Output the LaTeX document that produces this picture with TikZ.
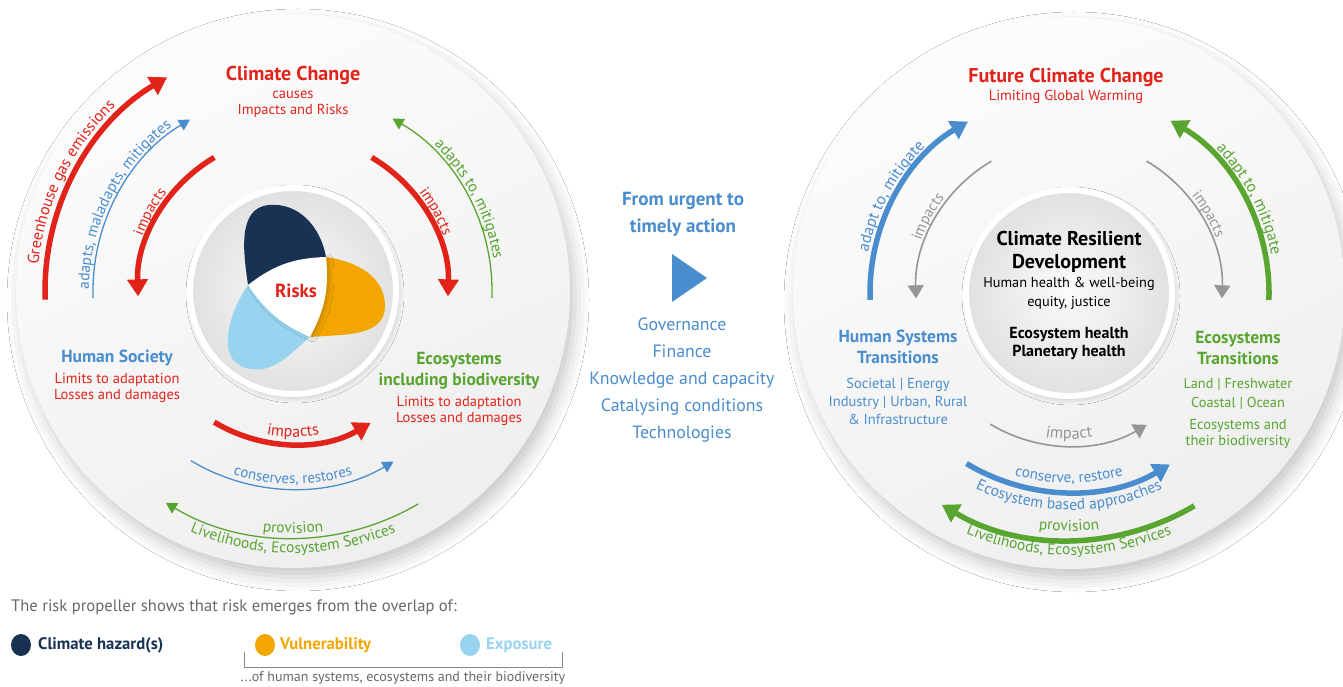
\documentclass[tikz,border=0pt]{standalone}
\usepackage{fontspec}
\setmainfont{PT Sans}
\usetikzlibrary{arrows.meta,decorations.text,shadows.blur}
\definecolor{ipred}{RGB}{226,35,26}
\definecolor{ipblue}{RGB}{74,141,206}
\definecolor{ipgreen}{RGB}{88,165,48}
\definecolor{ipgray}{RGB}{150,150,150}
\definecolor{ipnavy}{RGB}{24,50,84}
\definecolor{iporange}{RGB}{243,166,0}
\definecolor{iplight}{RGB}{152,212,240}
\definecolor{iptext}{RGB}{105,105,105}

\begin{document}
\begin{tikzpicture}[x=1pt,y=1pt,
  arc label/.style={decorate,decoration={text along path,text align=center,text={#1}}}]
		\tikzstyle{thick arrow} = [line width=5.5pt,-{Triangle[width=20pt,length=17pt]}]
		\tikzstyle{thin arrow} = [line width=1.3pt,-{Triangle[width=12pt,length=11pt]}]
		\tikzstyle{gray arrow} = [ipgray,line width=1.6pt,-{Triangle[width=16pt,length=13pt]}]
		\tikzstyle{disk} = [top color=gray!2,bottom color=gray!13,shading angle=25,
		    blur shadow={shadow xshift=5pt,shadow yshift=-9pt,shadow blur radius=14pt,shadow opacity=22}]
		\tikzstyle{hub} = [draw=white,line width=6pt,inner color=gray!3,outer color=gray!24,
		    blur shadow={shadow xshift=2pt,shadow yshift=-3pt,shadow blur radius=6pt,shadow opacity=20}]
		\tikzstyle{big head} = [font=\bfseries\fontsize{20}{22}\selectfont,inner sep=0pt]
		\tikzstyle{head} = [font=\bfseries\fontsize{17.5}{21}\selectfont,inner sep=0pt,align=center]
		\tikzstyle{body} = [font=\fontsize{14.5}{16}\selectfont,inner sep=0pt,align=center]
		\tikzstyle{legend} = [font=\bfseries\fontsize{16.7}{18}\selectfont,inner sep=0pt,anchor=west]

		\useasboundingbox (0,0) rectangle (1343,686);
		\fill[white] (0,0) rectangle (1343,686);

		\path[disk] (293,395) circle[radius=277pt];
		\path[disk] (1069,393) circle[radius=276pt];
		\path[hub] (293,395) circle[radius=103pt];
		\path[hub] (1069,393) circle[radius=103pt];

		\begin{scope}[shift={(293,395)}]
		\draw[thick arrow,ipred] (182:248pt) arc[start angle=182,end angle=120.5,radius=248pt];
		\path[arc label={|\fontsize{16}{18}\selectfont\color{ipred}|Greenhouse gas emissions}]
		    (194:256pt) arc[start angle=194,end angle=114,radius=256pt];
		\draw[thin arrow,ipblue] (182:200pt) arc[start angle=182,end angle=121,radius=200pt];
		\path[arc label={|\fontsize{15.5}{17}\selectfont\color{ipblue}|adapts, maladapts, mitigates}]
		    (193:204pt) arc[start angle=193,end angle=113,radius=204pt];
		\draw[thick arrow,ipred] (120.5:155pt) arc[start angle=120.5,end angle=182,radius=155pt];
		\path[arc label={|\fontsize{15}{17}\selectfont\color{ipred}|impacts}]
		    (181:160pt) arc[start angle=181,end angle=121,radius=160pt];
		\draw[thick arrow,ipred] (59.5:155pt) arc[start angle=59.5,end angle=-2,radius=155pt];
		\path[arc label={|\fontsize{15}{17}\selectfont\color{ipred}|impacts}]
		    (59:160pt) arc[start angle=59,end angle=-1,radius=160pt];
		\draw[thin arrow,ipgreen] (-2:199pt) arc[start angle=-2,end angle=60,radius=199pt];
		\path[arc label={|\fontsize{15.5}{17}\selectfont\color{ipgreen}|adapts to, mitigates}]
		    (67:203pt) arc[start angle=67,end angle=-12,radius=203pt];
		\draw[thick arrow,ipred] (239:153pt) arc[start angle=239,end angle=300.5,radius=153pt];
		\path[arc label={|\fontsize{16}{18}\selectfont\color{ipred}|impacts}]
		    (240:146pt) arc[start angle=240,end angle=300,radius=146pt];
		\draw[thin arrow,ipblue] (239:198pt) arc[start angle=239,end angle=300.5,radius=198pt];
		\path[arc label={|\fontsize{15}{17}\selectfont\color{ipblue}|conserves, restores}]
		    (240:193pt) arc[start angle=240,end angle=300,radius=193pt];
		\draw[thin arrow,ipgreen] (300.5:247pt) arc[start angle=300.5,end angle=239,radius=247pt];
		\path[arc label={|\fontsize{15.5}{17}\selectfont\color{ipgreen}|provision}]
		    (240:242pt) arc[start angle=240,end angle=300,radius=242pt];
		\path[arc label={|\fontsize{15.5}{17}\selectfont\color{ipgreen}|Livelihoods, Ecosystem Services}]
		    (235:262pt) arc[start angle=235,end angle=305,radius=262pt];
		\end{scope}

		\coordinate (pl) at (248,401);
		\coordinate (pv) at (326,429);
		\coordinate (pb) at (310,349);
		\fill[ipnavy] (pl) to[out=98,in=185] (269,481) to[out=5,in=100] (pv) -- cycle;
		\fill[iporange] (pv) to[out=-8,in=90] (385,380) to[out=270,in=5] (pb) -- cycle;
		\fill[iplight] (pl) to[out=235,in=165] (246,318) to[out=-15,in=220] (pb) -- cycle;
		\fill[white,blur shadow={shadow xshift=3pt,shadow yshift=-1pt,shadow blur radius=4pt,shadow opacity=18}]
		    (pl) to[bend left=18] (pv) to[bend left=17] (pb) to[bend left=16] (pl);
		\node[font=\bfseries\fontsize{19}{20}\selectfont,text=ipred,inner sep=0pt] (risks) at (296,395) {Risks};

		\node[big head,text=ipred] (cc) at (293,611) {Climate Change};
		\node[body,text=ipred] (ccsub) at (293,582) {causes\\Impacts and Risks};
		\node[head,text=ipblue] (hs) at (117,328) {Human Society};
		\node[body,text=ipred] (hslim) at (117,298) {Limits to adaptation\\Losses and damages};
		\node[head,text=ipgreen] (eco) at (459,315) {Ecosystems\\including biodiversity};
		\node[body,text=ipred] (ecolim) at (459,275) {Limits to adaptation\\Losses and damages};

		\node[font=\bfseries\fontsize{19}{27}\selectfont,text=ipblue,align=center,inner sep=0pt] (urgent) at (683,472) {From urgent to\\timely action};
		\fill[ipblue] (672,432) -- (672,384) -- (707,408) -- cycle;
		\node[font=\fontsize{17.8}{27}\selectfont,text=ipblue,align=center,inner sep=0pt] (levers) at (682,306)
		    {Governance\\Finance\\Knowledge and capacity\\Catalysing conditions\\Technologies};

		\begin{scope}[shift={(1069,393)}]
		\draw[thick arrow,ipblue] (182:199pt) arc[start angle=182,end angle=120.5,radius=199pt];
		\path[arc label={|\fontsize{16}{18}\selectfont\color{ipblue}|adapt to, mitigate}]
		    (191:205pt) arc[start angle=191,end angle=112,radius=205pt];
		\draw[gray arrow] (120.5:153pt) arc[start angle=120.5,end angle=182,radius=153pt];
		\path[arc label={|\fontsize{15}{17}\selectfont\color{ipgray}|impacts}]
		    (181:157pt) arc[start angle=181,end angle=122,radius=157pt];
		\draw[gray arrow] (59.5:153pt) arc[start angle=59.5,end angle=-2,radius=153pt];
		\path[arc label={|\fontsize{15}{17}\selectfont\color{ipgray}|impacts}]
		    (59:157pt) arc[start angle=59,end angle=0,radius=157pt];
		\draw[thick arrow,ipgreen] (-2:200pt) arc[start angle=-2,end angle=59.5,radius=200pt];
		\path[arc label={|\fontsize{16}{18}\selectfont\color{ipgreen}|adapt to, mitigate}]
		    (67:206pt) arc[start angle=67,end angle=-12,radius=206pt];
		\draw[gray arrow] (239:153pt) arc[start angle=239,end angle=300.5,radius=153pt];
		\path[arc label={|\fontsize{16.4}{18}\selectfont\color{ipgray}|impact}]
		    (240:146pt) arc[start angle=240,end angle=300,radius=146pt];
		\draw[thick arrow,ipblue] (239:199pt) arc[start angle=239,end angle=300.5,radius=199pt];
		\path[arc label={|\fontsize{15.2}{17}\selectfont\color{ipblue}|conserve, restore}]
		    (240:190pt) arc[start angle=240,end angle=300,radius=190pt];
		\path[arc label={|\fontsize{15.6}{17}\selectfont\color{ipblue}|Ecosystem based approaches}]
		    (236:217pt) arc[start angle=236,end angle=304,radius=217pt];
		\draw[thick arrow,ipgreen] (300.5:247pt) arc[start angle=300.5,end angle=239,radius=247pt];
		\path[arc label={|\fontsize{15.5}{17}\selectfont\color{ipgreen}|provision}]
		    (240:238pt) arc[start angle=240,end angle=300,radius=238pt];
		\path[arc label={|\fontsize{15.5}{17}\selectfont\color{ipgreen}|Livelihoods, Ecosystem Services}]
		    (235:262pt) arc[start angle=235,end angle=305,radius=262pt];
		\end{scope}

		\node[big head,text=ipred] (fcc) at (1066,609) {Future Climate Change};
		\node[body,text=ipred] (lgw) at (1066,589) {Limiting Global Warming};
		\node[font=\bfseries\fontsize{20}{23}\selectfont,align=center,inner sep=0pt] (crd) at (1069,434.5) {Climate Resilient\\Development};
		\node[font=\fontsize{14.3}{19}\selectfont,align=center,inner sep=0pt] (hh) at (1069,392.5) {Human health \& well-being\\equity, justice};
		\node[font=\bfseries\fontsize{16}{18}\selectfont,align=center,inner sep=0pt] (eh) at (1069,342) {Ecosystem health\\Planetary health};
		\node[head,text=ipblue] (hst) at (898,339.5) {Human Systems\\Transitions};
		\node[body,text=ipblue,font=\fontsize{14.5}{18}\selectfont] (hstl) at (898,285) {Societal | Energy\\Industry | Urban, Rural\\\& Infrastructure};
		\node[head,text=ipgreen] (est) at (1238,338.5) {Ecosystems\\Transitions};
		\node[body,text=ipgreen,font=\fontsize{14.3}{19}\selectfont] (estl) at (1238,292.5) {Land | Freshwater\\Coastal | Ocean};
		\node[body,text=ipgreen] (este) at (1238,252) {Ecosystems and\\their biodiversity};

		\node[font=\fontsize{16.6}{18}\selectfont,text=iptext,anchor=west,inner sep=0pt] (cap) at (11,79)
		    {The risk propeller shows that risk emerges from the overlap of:};
		\fill[ipnavy] (21,41) ellipse[x radius=10pt,y radius=11pt];
		\node[legend,text=ipnavy] (haz) at (38,41) {Climate hazard(s)};
		\fill[iporange] (265,41) ellipse[x radius=10pt,y radius=11pt];
		\node[legend,text=iporange] (vul) at (280,41) {Vulnerability};
		\fill[iplight] (470,41) ellipse[x radius=10pt,y radius=11pt];
		\node[legend,text=iplight] (expo) at (486,41) {Exposure};
		\draw[iptext!80,line width=1pt] (244,34) -- (244,19) -- (562,19) -- (562,34);
		\node[font=\fontsize{14}{16}\selectfont,text=iptext,inner sep=0pt] (ofhs) at (403,8)
		    {...of human systems, ecosystems and their biodiversity};
	\end{tikzpicture}
\end{document}
